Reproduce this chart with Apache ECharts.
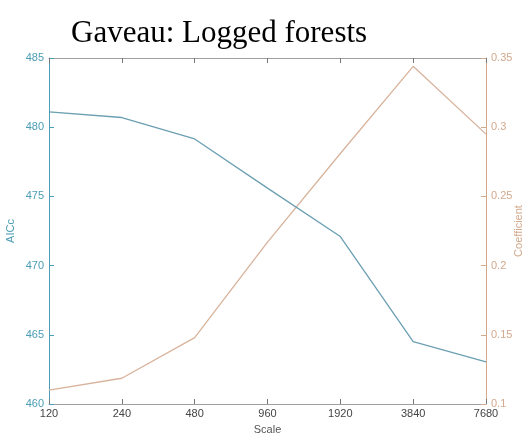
<!DOCTYPE html>
<html>
<head>
<meta charset="utf-8">
<script src="https://cdn.jsdelivr.net/npm/echarts@6/dist/echarts.min.js"></script>
<style>
  html, body { margin: 0; padding: 0; background: #fff; }
  #chart { width: 532px; height: 440px; }
</style>
</head>
<body>
<div id="chart"></div>
<script>
var myChart = echarts.init(document.getElementById('chart'));

// data
var scales = ['120', '240', '480', '960', '1920', '3840', '7680'];
var aiccData = [481.1, 480.7, 479.15, 475.6, 472.1, 464.5, 463.05];
var coefData = [0.110, 0.1186, 0.148, 0.217, 0.281, 0.344, 0.295];

var blueAxis = '#4b9db5';
var blueLine = '#6b9fb2';
var orangeAxis = '#d2a98d';
var orangeLine = '#d8b39c';
var grayLine = '#a0a0a0';
var font = 'Liberation Sans';

var option = {
    backgroundColor: '#fff',
    animation: false,
    title: {
        text: 'Gaveau: Logged forests',
        left: 66,
        top: 13,
        textStyle: {
            fontFamily: 'Liberation Serif',
            fontSize: 31,
            fontWeight: 'normal',
            color: '#000'
        }
    },
    grid: {
        left: 49,
        right: 46,
        top: 58,
        bottom: 36,
        outerBoundsMode: 'none'
    },
    xAxis: [{
        type: 'category',
        data: scales,
        boundaryGap: false,
        name: 'Scale',
        nameLocation: 'middle',
        nameGap: 20,
        nameTextStyle: { color: '#555', fontFamily: font, fontSize: 11 },
        axisLine: { lineStyle: { color: grayLine, width: 1 } },
        axisTick: { inside: true, length: 5, lineStyle: { color: '#777' } },
        axisLabel: { color: '#444', fontFamily: font, fontSize: 11, margin: 4 },
        splitLine: { show: false }
    }, {
        type: 'category',
        data: scales,
        boundaryGap: false,
        position: 'top',
        axisLine: { lineStyle: { color: grayLine, width: 1 } },
        axisTick: { inside: true, length: 5, lineStyle: { color: '#777' } },
        axisLabel: { show: false },
        splitLine: { show: false }
    }],
    yAxis: [{
        type: 'value',
        min: 460,
        max: 485,
        interval: 5,
        name: 'AICc',
        nameLocation: 'middle',
        nameGap: 33,
        nameMoveOverlap: false,
        nameTextStyle: { color: blueAxis, fontFamily: font, fontSize: 11 },
        axisLine: { show: true, lineStyle: { color: blueAxis, width: 1 } },
        axisTick: { show: true, inside: true, length: 5, lineStyle: { color: blueAxis } },
        axisLabel: { color: blueAxis, fontFamily: font, fontSize: 11, margin: 5 },
        splitLine: { show: false }
    }, {
        type: 'value',
        min: 0.1,
        max: 0.35,
        interval: 0.05,
        position: 'right',
        name: 'Coefficient',
        nameLocation: 'middle',
        nameGap: 27,
        nameRotate: 90,
        nameMoveOverlap: false,
        nameTextStyle: { color: orangeAxis, fontFamily: font, fontSize: 11 },
        axisLine: { show: true, lineStyle: { color: orangeAxis, width: 1 } },
        axisTick: { show: true, inside: true, length: 5, lineStyle: { color: orangeAxis } },
        axisLabel: {
            color: orangeAxis, fontFamily: font, fontSize: 11, margin: 5,
            formatter: function (v) { return String(+v.toFixed(2)); }
        },
        splitLine: { show: false }
    }],
    series: [{
        name: 'AICc',
        type: 'line',
        data: aiccData,
        yAxisIndex: 0,
        symbol: 'none',
        lineStyle: { color: blueLine, width: 1.3 },
        z: 3
    }, {
        name: 'Coefficient',
        type: 'line',
        data: coefData,
        yAxisIndex: 1,
        symbol: 'none',
        lineStyle: { color: orangeLine, width: 1.3 },
        z: 2
    }]
};

myChart.setOption(option);
</script>
</body>
</html>
